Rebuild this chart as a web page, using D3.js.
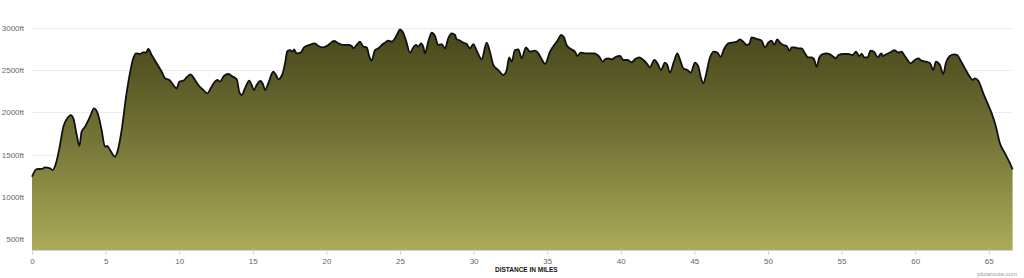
<!DOCTYPE html>
<html>
<head>
<meta charset="utf-8">
<script src="https://cdn.jsdelivr.net/npm/d3@7"></script>
<style>
  body { margin: 0; background: #fff; }
  svg { display: block; font-family: "Liberation Sans", Arial, sans-serif; }
</style>
</head>
<body>
<svg id="chart" width="1024" height="278"></svg>
<script>
// route profile (miles / feet)
const distance = [
  0, 0.32, 0.66, 0.88, 1.22, 1.4, 1.63, 1.86, 2.13, 2.4, 2.63, 2.81, 3.04, 3.22, 3.37, 3.6, 3.94, 4.21, 4.5, 4.73,
  4.96, 5.12, 5.3, 5.64, 5.8, 6.09, 6.39, 6.61, 6.88, 7.07, 7.34, 7.56, 7.74, 7.9, 8.13, 8.47, 8.81, 9.04, 9.33,
  9.6, 9.83, 10.0, 10.28, 10.51, 10.78, 11.0, 11.3, 11.64, 11.91, 12.14, 12.43, 12.59, 12.77, 13.04, 13.34, 13.57, 13.91, 14.08, 14.25,
  14.47, 14.76, 14.92, 15.08, 15.26, 15.53, 15.71, 15.83, 16.05, 16.39, 16.58, 16.73, 17.03, 17.19, 17.35, 17.53, 17.71, 17.8, 17.98, 18.25,
  18.48, 18.84,
  19.23, 19.45, 19.79, 20.13, 20.52, 20.81, 21.15, 21.49, 21.72, 21.83, 22.06, 22.28, 22.51, 22.74, 22.92, 23.08, 23.3, 23.53, 23.76, 23.98,
  24.2, 24.44, 24.66, 24.82, 25.0, 25.18, 25.41, 25.68, 25.91, 26.09, 26.24, 26.43, 26.58, 26.7, 26.92, 27.15, 27.38, 27.6, 27.83, 28.06,
  28.28, 28.51, 28.74,
  28.85, 29.08, 29.3, 29.53, 29.76, 29.98, 30.21, 30.55, 30.89, 31.11, 31.34, 31.68, 32.02, 32.25, 32.42, 32.59, 32.81, 33.04, 33.27, 33.56,
  33.83, 34.17, 34.4, 34.63, 34.85, 35.19, 35.53, 35.76, 35.94, 36.14, 36.32, 36.66, 36.89, 37.05, 37.28, 37.57, 37.91, 38.18,
  38.54, 38.77, 38.93, 39.15, 39.38, 39.61, 39.95, 40.17, 40.45, 40.74, 40.96, 41.26, 41.53, 41.76, 41.98, 42.28, 42.55, 42.73, 43.0, 43.16,
  43.34, 43.61, 43.84, 44.02, 44.25, 44.52, 44.75, 45.04, 45.27, 45.43, 45.6, 45.79, 46.01, 46.33, 46.56, 46.79, 47.01, 47.3, 47.53,
  47.87, 48.1, 48.32, 48.55, 48.73, 48.89, 49.12, 49.34, 49.57, 49.8, 50.02, 50.25, 50.43, 50.63, 50.82, 51.04, 51.27, 51.45, 51.61, 51.83,
  52.06, 52.29, 52.51, 52.74, 52.97, 53.13, 53.31, 53.49, 53.72, 53.99, 54.21, 54.44, 54.62, 54.78, 55.12, 55.46, 55.76, 55.98, 56.2, 56.37,
  56.54, 56.77, 56.97, 57.2,
  57.46, 57.7, 57.8, 58.08, 58.38, 58.6, 58.85, 59.07, 59.3, 59.48, 59.69, 59.92, 60.2, 60.44, 60.73, 61.01, 61.23, 61.41, 61.68, 61.91,
  62.09, 62.36, 62.64, 62.86, 63.09, 63.38, 63.68, 63.91, 64.06, 64.29, 64.63, 64.9, 65.2, 65.49, 65.76, 66.1, 66.39, 66.62
]
const elevation = [
  1238, 1329, 1330, 1349, 1337, 1317, 1397, 1574, 1830, 1930, 1969, 1930, 1732, 1602, 1771, 1830, 1949, 2048, 1969, 1791,
  1594, 1602, 1554, 1475, 1534, 1791, 2186, 2423, 2641, 2700, 2692, 2712, 2708, 2751, 2680, 2582, 2482, 2404, 2384,
  2325, 2285, 2364, 2376, 2416, 2451, 2404, 2325, 2265, 2226, 2285, 2364, 2384, 2364, 2431, 2455, 2431, 2392, 2245, 2206,
  2285, 2376, 2325, 2265, 2325, 2372, 2325, 2265, 2344, 2482, 2443, 2392, 2463, 2582, 2727, 2739, 2719, 2747, 2700, 2708,
  2771, 2799,
  2818, 2787, 2771, 2799, 2846, 2818, 2799, 2799, 2787, 2759, 2799, 2838, 2779, 2771, 2660, 2613, 2739, 2759, 2799, 2826,
  2850, 2838, 2878, 2929, 2984, 2956, 2850, 2708, 2771, 2799, 2779, 2818, 2779, 2700, 2838, 2944, 2905, 2799, 2810, 2759,
  2878, 2937, 2917,
  2866, 2850, 2826, 2810, 2759, 2810, 2731, 2629, 2826, 2719, 2562, 2502, 2443, 2502, 2653, 2601, 2739, 2747, 2641, 2771,
  2719, 2731, 2700, 2629, 2574, 2719, 2810, 2866, 2917, 2890, 2799, 2747, 2719, 2668, 2708, 2700, 2700, 2700,
  2660, 2601, 2629, 2641, 2629, 2653, 2668, 2621, 2621, 2594, 2629, 2653, 2621, 2582, 2534, 2621, 2562, 2502, 2589, 2562,
  2471, 2601, 2700, 2629, 2522, 2502, 2471, 2589, 2542, 2423, 2344, 2443, 2621, 2719, 2708, 2660, 2747, 2818, 2826,
  2838, 2866, 2838, 2799, 2810, 2890, 2878, 2866, 2850, 2771, 2826, 2850, 2799, 2866, 2826, 2799, 2787, 2731, 2771, 2771,
  2759, 2759, 2700, 2653, 2653, 2629, 2542, 2653, 2692, 2700, 2688, 2660, 2641, 2680, 2692, 2692, 2680, 2719, 2668, 2692,
  2653, 2653, 2731, 2719,
  2653, 2700, 2668, 2692, 2719, 2739, 2708, 2719, 2668, 2621, 2582, 2613, 2641, 2613, 2601, 2582, 2502, 2601, 2562, 2455,
  2589, 2668, 2688, 2680, 2613, 2522, 2431, 2384, 2404, 2376, 2226, 2115, 1989, 1830, 1633, 1515, 1416, 1326
]
const yTicks = [500, 1000, 1500, 2000, 2500, 3000]
const xTicks = [0, 5, 10, 15, 20, 25, 30, 35, 40, 45, 50, 55, 60, 65]

const data = distance.map((d, i) => ({ mi: d, ft: elevation[i] }))

const plotLeft = 32, plotRight = 1012.6, plotTop = 28, plotBottom = 250

const x = d3.scaleLinear().domain([0, d3.max(distance)]).range([plotLeft, plotRight])
const y = d3.scaleLinear().domain([370, 3000]).range([plotBottom, plotTop])

const svg = d3.select("#chart")

// gradient fill, dark olive at the top to pale olive at the bottom
const grad = svg.append("defs").append("linearGradient")
    .attr("id", "fillGrad")
    .attr("gradientUnits", "userSpaceOnUse")
    .attr("x1", 0).attr("y1", plotTop).attr("x2", 0).attr("y2", plotBottom)
grad.append("stop").attr("offset", 0).attr("stop-color", "#45451a")
grad.append("stop").attr("offset", 0.5).attr("stop-color", "#747437")
grad.append("stop").attr("offset", 1).attr("stop-color", "#abab58")

// grid
svg.append("g")
  .selectAll("line")
  .data(yTicks)
  .join("line")
    .attr("x1", plotLeft).attr("x2", plotRight)
    .attr("y1", d => Math.round(y(d)) + 0.5).attr("y2", d => Math.round(y(d)) + 0.5)
    .attr("stroke", "#ececec")

// y labels
svg.append("g")
  .selectAll("text")
  .data(yTicks)
  .join("text")
    .attr("x", 24)
    .attr("y", d => y(d) + 3)
    .attr("text-anchor", "end")
    .attr("font-size", 8)
    .attr("fill", "#666")
    .text(d => d + "ft")

// area + outline
const area = d3.area()
    .x(d => x(d.mi))
    .y0(plotBottom)
    .y1(d => y(d.ft))
    .curve(d3.curveMonotoneX)

const line = d3.line()
    .x(d => x(d.mi))
    .y(d => y(d.ft))
    .curve(d3.curveMonotoneX)

svg.append("path")
    .datum(data)
    .attr("d", area)
    .attr("fill", "url(#fillGrad)")

svg.append("path")
    .datum(data)
    .attr("d", line)
    .attr("fill", "none")
    .attr("stroke", "#111")
    .attr("stroke-width", 1.8)
    .attr("stroke-linejoin", "round")

// x axis
const xAxis = svg.append("g")
    .attr("transform", "translate(0," + plotBottom + ")")
    .call(d3.axisBottom(x).tickValues(xTicks).tickSize(5).tickPadding(3).tickSizeOuter(0))
xAxis.select(".domain").attr("stroke", "#ccd6eb")
xAxis.selectAll(".tick line").attr("stroke", "#ccd6eb")
xAxis.selectAll(".tick text")
    .attr("font-size", 8)
    .attr("fill", "#666")
    .attr("font-family", "Liberation Sans, Arial, sans-serif")

svg.append("text")
    .attr("x", (plotLeft + plotRight) / 2 + 4)
    .attr("y", 272)
    .attr("text-anchor", "middle")
    .attr("font-size", 6.5)
    .attr("font-weight", "bold")
    .attr("fill", "#111")
    .text("DISTANCE IN MILES")

svg.append("text")
    .attr("x", 1017)
    .attr("y", 276)
    .attr("text-anchor", "end")
    .attr("font-size", 6)
    .attr("fill", "#999")
    .text("plotaroute.com")
</script>
</body>
</html>
